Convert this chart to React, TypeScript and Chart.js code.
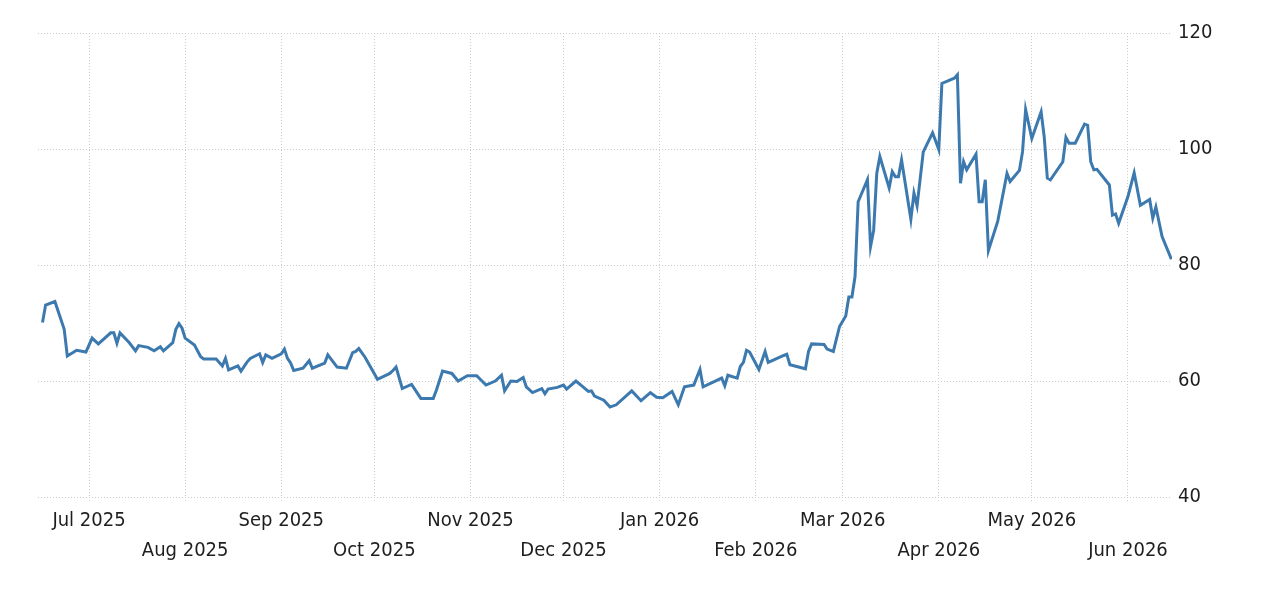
import React, { useEffect, useRef } from "react";
import { Chart, registerables } from "chart.js";

Chart.register(...registerables);

const START_DATE = "2025-06-16";

const DATES: string[] = [
  "2025-06-16", "2025-06-17", "2025-06-20", "2025-06-23", "2025-06-24", "2025-06-27", "2025-06-30",
  "2025-07-02", "2025-07-04", "2025-07-08", "2025-07-09", "2025-07-10", "2025-07-11", "2025-07-14",
  "2025-07-16", "2025-07-17", "2025-07-20", "2025-07-22", "2025-07-24", "2025-07-25", "2025-07-28",
  "2025-07-29", "2025-07-30", "2025-07-31", "2025-08-01", "2025-08-04", "2025-08-06", "2025-08-07",
  "2025-08-11", "2025-08-13", "2025-08-14", "2025-08-15", "2025-08-18", "2025-08-19", "2025-08-21",
  "2025-08-22", "2025-08-25", "2025-08-26", "2025-08-27", "2025-08-29", "2025-09-01", "2025-09-02",
  "2025-09-03", "2025-09-04", "2025-09-05", "2025-09-08", "2025-09-10", "2025-09-11", "2025-09-15",
  "2025-09-16", "2025-09-19", "2025-09-22", "2025-09-24", "2025-09-25", "2025-09-26", "2025-09-28",
  "2025-09-30", "2025-10-02", "2025-10-06", "2025-10-07", "2025-10-08", "2025-10-10", "2025-10-13",
  "2025-10-16", "2025-10-20", "2025-10-21", "2025-10-23", "2025-10-26", "2025-10-28", "2025-10-31",
  "2025-11-03", "2025-11-06", "2025-11-09", "2025-11-11", "2025-11-12", "2025-11-14", "2025-11-16",
  "2025-11-18", "2025-11-19", "2025-11-21", "2025-11-24", "2025-11-25", "2025-11-26", "2025-11-29",
  "2025-12-01", "2025-12-02", "2025-12-05", "2025-12-07", "2025-12-09", "2025-12-10", "2025-12-11",
  "2025-12-14", "2025-12-16", "2025-12-18", "2025-12-23", "2025-12-26", "2025-12-29", "2025-12-31",
  "2026-01-02", "2026-01-05", "2026-01-07", "2026-01-09", "2026-01-12", "2026-01-14", "2026-01-15",
  "2026-01-21", "2026-01-22", "2026-01-23", "2026-01-26", "2026-01-27", "2026-01-28", "2026-01-29",
  "2026-01-30", "2026-02-02", "2026-02-04", "2026-02-05", "2026-02-10", "2026-02-11", "2026-02-12",
  "2026-02-17", "2026-02-18", "2026-02-19", "2026-02-23", "2026-02-24", "2026-02-26", "2026-02-28",
  "2026-03-02", "2026-03-03", "2026-03-04", "2026-03-05", "2026-03-06", "2026-03-09", "2026-03-10",
  "2026-03-11", "2026-03-12", "2026-03-13", "2026-03-16", "2026-03-17", "2026-03-18", "2026-03-19",
  "2026-03-20", "2026-03-23", "2026-03-24", "2026-03-25", "2026-03-27", "2026-03-30", "2026-04-01",
  "2026-04-02", "2026-04-06", "2026-04-07", "2026-04-08", "2026-04-09", "2026-04-10", "2026-04-13",
  "2026-04-14", "2026-04-15", "2026-04-16", "2026-04-17", "2026-04-20", "2026-04-23", "2026-04-24",
  "2026-04-27", "2026-04-28", "2026-04-29", "2026-05-01", "2026-05-04", "2026-05-05", "2026-05-06",
  "2026-05-07", "2026-05-11", "2026-05-12", "2026-05-13", "2026-05-15", "2026-05-18", "2026-05-19",
  "2026-05-20", "2026-05-21", "2026-05-22", "2026-05-26", "2026-05-27", "2026-05-28", "2026-05-29",
  "2026-06-01", "2026-06-03", "2026-06-05", "2026-06-08", "2026-06-09", "2026-06-10", "2026-06-12",
  "2026-06-15",
];

const VALUES: number[] = [
  70.1, 73.1, 73.7, 68.9, 64.3, 65.3, 65.0,
  67.4, 66.4, 68.3, 68.3, 66.5, 68.3, 66.6,
  65.2, 66.1, 65.8, 65.2, 65.9, 65.2, 66.6,
  68.9, 69.9, 69.1, 67.4, 66.2, 64.2, 63.8,
  63.8, 62.6, 63.9, 61.9, 62.6, 61.7, 63.3,
  63.9, 64.7, 63.2, 64.5, 63.9, 64.7, 65.5,
  63.9, 63.1, 61.8, 62.2, 63.5, 62.2, 63.1,
  64.5, 62.4, 62.2, 64.9, 65.1, 65.6, 64.1,
  62.2, 60.3, 61.3, 61.8, 62.4, 58.7, 59.4,
  57.0, 57.0, 58.4, 61.7, 61.3, 60.0, 60.9,
  60.9, 59.3, 60.0, 61.0, 58.3, 60.0, 59.9,
  60.6, 59.0, 58.0, 58.7, 57.8, 58.6, 58.9,
  59.3, 58.6, 60.0, 59.1, 58.2, 58.3, 57.4,
  56.7, 55.5, 55.9, 58.3, 56.6, 58.0, 57.2,
  57.1, 58.2, 55.9, 59.0, 59.3, 62.0, 59.0,
  60.5, 59.2, 61.0, 60.5, 62.5, 63.2, 65.3,
  65.0, 62.0, 65.1, 63.2, 64.4, 64.6, 62.8,
  62.1, 65.1, 66.4, 66.3, 65.5, 65.1, 69.4,
  71.2, 74.5, 74.5, 78.0, 90.9, 94.7, 83.2,
  86.0, 95.8, 98.7, 93.3, 96.1, 95.2, 95.2,
  98.1, 87.9, 92.4, 90.2, 99.5, 102.8, 99.9,
  111.3, 112.2, 112.8, 94.1, 97.8, 96.4, 99.1,
  90.9, 90.9, 94.7, 82.5, 87.5, 95.8, 94.4,
  96.3, 99.5, 106.8, 101.8, 106.4, 102.1, 95.0,
  94.7, 97.8, 102.0, 101.0, 101.0, 104.3, 104.1,
  97.8, 96.4, 96.5, 93.8, 88.6, 88.8, 87.2,
  91.8, 95.9, 90.3, 91.3, 88.1, 90.0, 84.9,
  81.0,
];

const MONTH_STARTS: string[] = [
  "2025-07-01", "2025-08-01", "2025-09-01", "2025-10-01", "2025-11-01", "2025-12-01",
  "2026-01-01", "2026-02-01", "2026-03-01", "2026-04-01", "2026-05-01", "2026-06-01",
];

const MONTH_LABELS: string[] = [
  "Jul 2025", "Aug 2025", "Sep 2025", "Oct 2025", "Nov 2025", "Dec 2025",
  "Jan 2026", "Feb 2026", "Mar 2026", "Apr 2026", "May 2026", "Jun 2026",
];

const Y_TICKS: number[] = [40, 60, 80, 100, 120];

function dayOf(iso: string): number {
  const [y, m, d] = iso.split("-").map(Number);
  const [y0, m0, d0] = START_DATE.split("-").map(Number);
  return (Date.UTC(y, m - 1, d) - Date.UTC(y0, m0 - 1, d0)) / 86400000;
}

const FONT = '"DejaVu Sans Condensed", "DejaVu Sans", sans-serif';
const GRID = "#cccccc";

export default function App() {
  const ref = useRef<HTMLCanvasElement | null>(null);

  useEffect(() => {
    if (!ref.current) return;
    const points = DATES.map((d, i) => ({ x: dayOf(d), y: VALUES[i] }));
    const monthDays = MONTH_STARTS.map(dayOf);
    const firstDay = dayOf(DATES[0]);
    const lastDay = dayOf(DATES[DATES.length - 1]);

    const chart = new Chart(ref.current, {
      type: "line",
      data: {
        datasets: [
          {
            data: points,
            borderColor: "#3c79af",
            borderWidth: 3,
            pointRadius: 0,
            tension: 0,
            fill: false,
          },
        ],
      },
      options: {
        animation: false,
        responsive: true,
        maintainAspectRatio: false,
        layout: { padding: { left: 38, top: 33, right: 0, bottom: 0 } },
        plugins: { legend: { display: false }, tooltip: { enabled: false } },
        scales: {
          x: {
            type: "linear",
            min: firstDay - 1.45,
            max: lastDay + 0.2,
            border: { display: false, dash: [1, 2] },
            grid: {
              color: GRID,
              lineWidth: 1,
              drawTicks: true,
              tickLength: 6,
              tickBorderDash: [1, 2],
            },
            afterBuildTicks: (scale: any) => {
              scale.ticks = monthDays.map((v) => ({ value: v }));
            },
            afterFit: (scale: any) => {
              scale.height = 99;
            },
            ticks: {
              autoSkip: false,
              maxRotation: 0,
              minRotation: 0,
              padding: 3,
              color: "#1e1e1e",
              font: { family: FONT, size: 20, lineHeight: 1.5 },
              callback: (_v: any, i: number) =>
                i % 2 === 0 ? [MONTH_LABELS[i]] : ["", MONTH_LABELS[i]],
            },
          },
          y: {
            type: "linear",
            position: "right",
            min: Y_TICKS[0],
            max: Y_TICKS[Y_TICKS.length - 1],
            border: { display: false, dash: [1, 2] },
            grid: { color: GRID, lineWidth: 1, drawTicks: false },
            afterBuildTicks: (scale: any) => {
              scale.ticks = Y_TICKS.map((v) => ({ value: v }));
            },
            afterFit: (scale: any) => {
              scale.width = 108;
            },
            ticks: {
              padding: 6,
              color: "#1e1e1e",
              font: { family: FONT, size: 20 },
              callback: (v: any) => String(v),
            },
          },
        },
      },
    } as any);
    return () => chart.destroy();
  }, []);

  return (
    <div style={{ position: "fixed", left: 0, top: 0, width: 1280, height: 596, background: "#fff" }}>
      <canvas ref={ref} />
    </div>
  );
}
